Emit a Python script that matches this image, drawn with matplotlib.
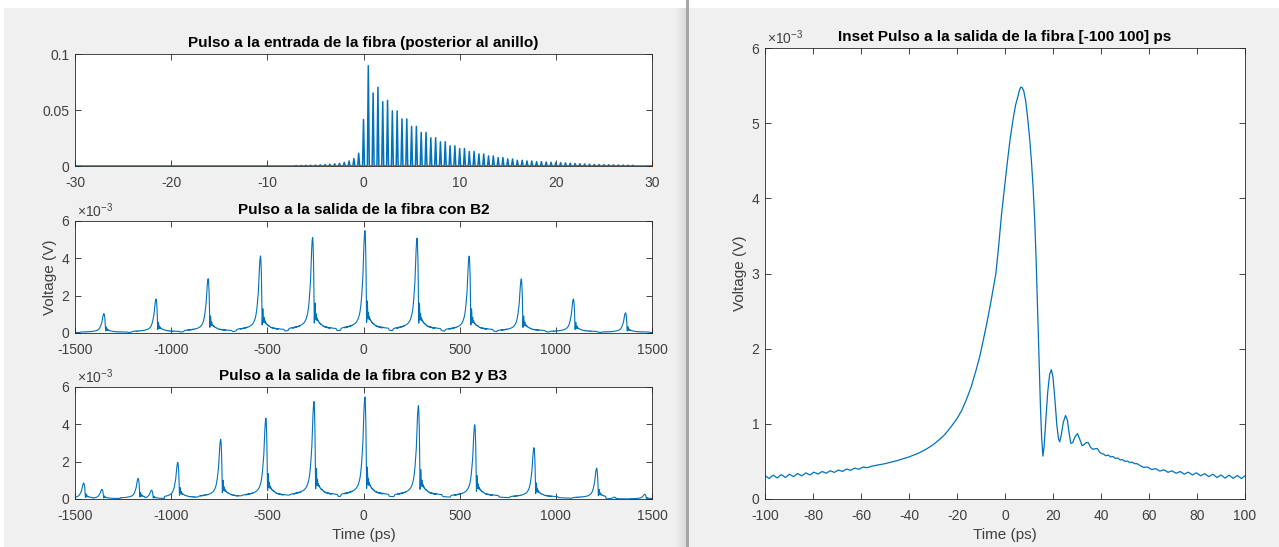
import matplotlib
matplotlib.use("Agg")
import matplotlib.pyplot as plt
from matplotlib.patches import Rectangle
import numpy as np

LINE_BLUE = "#0072BD"
AXIS_GREY = "#262626"
LABEL_GREY = "#404040"
PANEL_BG = "#f0f0f0"

plt.rcParams["font.family"] = ["Liberation Sans", "DejaVu Sans"]
plt.rcParams["mathtext.default"] = "regular"
plt.rcParams["axes.unicode_minus"] = False

# input pulse after the ring: spike times (ps) and peak power
spike_t = [-7.0, -6.5, -6.0, -5.5, -5.0, -4.5, -4.0, -3.5, -3.0, -2.5, -2.0, -1.5,
           -1.0, -0.5, 0.0, 0.5, 1.0, 1.5, 2.0, 2.5, 3.0, 3.5, 4.0, 4.5, 5.0, 5.5,
           6.0, 6.5, 7.0, 7.5, 8.0, 8.5, 9.0, 9.5, 10.0, 10.5, 11.0, 11.5, 12.0, 12.5,
           13.0, 13.5, 14.0, 14.5, 15.0, 15.5, 16.0, 16.5, 17.0, 17.5, 18.0, 18.5,
           19.0, 19.5, 20.0, 20.5, 21.0, 21.5, 22.0, 22.5, 23.0, 23.5, 24.0, 24.5,
           25.0, 25.5, 26.0, 26.5, 27.0, 27.5, 28.0]
spike_h = [0.0004, 0.0005, 0.0006, 0.0007, 0.0008, 0.0010, 0.0012, 0.0015, 0.0020, 0.0024,
           0.0033, 0.0045, 0.0066, 0.0114, 0.0414, 0.0895, 0.0652, 0.0703, 0.0574, 0.0586,
           0.0492, 0.0492, 0.0420, 0.0420, 0.0354, 0.0354, 0.0300, 0.0300, 0.0252, 0.0252,
           0.0216, 0.0216, 0.0180, 0.0180, 0.0156, 0.0156, 0.0129, 0.0129, 0.0108, 0.0108,
           0.0090, 0.0090, 0.0075, 0.0075, 0.0063, 0.0063, 0.0051, 0.0051, 0.0045, 0.0045,
           0.0039, 0.0039, 0.0036, 0.0033, 0.0030, 0.0030, 0.0027, 0.0025, 0.0022, 0.0020,
           0.0018, 0.0016, 0.0014, 0.0013, 0.0012, 0.0011, 0.0010, 0.0009, 0.0008, 0.0007,
           0.0006]

# central output pulse with B2 (time in ps, voltage in 1e-3 V)
pulse_t = [-121, -115, -108,
           -100.0, -98.3, -96.6, -94.9, -93.2, -91.5, -89.8, -88.1, -86.4, -84.7,
           -83.0, -81.3, -79.6, -77.9, -76.2, -74.5, -72.8, -71.1, -69.4, -67.7,
           -66.0, -64.3, -62.6, -60.9, -59.2, -57.5,
           -55, -50, -45, -40, -36, -33, -30, -27, -25, -22.5, -20, -18, -16, -14,
           -12, -10.5, -9, -7.5, -6, -4.8, -3.8, -2.6, -1.4, -0.2, 0.9, 2.1, 3.4,
           4.4, 5.4, 6.0, 6.6, 7.2, 7.8, 8.6, 9.4, 10.2, 11.0, 11.7, 12.4, 13.0,
           13.6, 14.2, 14.8, 15.3, 15.8, 16.3, 17.0, 17.8, 18.6, 19.3, 20.0, 20.8,
           21.6, 22.3, 22.8, 23.5, 24.3, 25.2, 26.0, 26.7, 27.4, 28.2, 29.2, 30.2,
           31.1, 32.1, 32.8, 33.8, 34.7, 35.6, 36.6, 37.6, 38.5, 39.5, 40.5,
           41, 42, 43, 44, 45, 46, 47, 48, 49, 50, 51, 52, 53, 54, 55,
           56.0, 57.7, 59.4, 61.1, 62.8, 64.5, 66.2, 67.9, 69.6, 71.3, 73.0, 74.7,
           76.4, 78.1, 79.8, 81.5, 83.2, 84.9, 86.6, 88.3, 90.0, 91.7, 93.4, 95.1,
           96.8, 98.5, 100.0,
           110, 128, 135]
pulse_v = [0.14, 0.26, 0.28,
           0.310, 0.273, 0.317, 0.280, 0.324, 0.287, 0.329, 0.298, 0.339, 0.308,
           0.347, 0.320, 0.357, 0.331, 0.366, 0.343, 0.376, 0.354, 0.385, 0.367,
           0.398, 0.382, 0.411, 0.396, 0.425, 0.417,
           0.44, 0.47, 0.51, 0.56, 0.61, 0.66, 0.72, 0.80, 0.86, 0.96, 1.07, 1.18,
           1.33, 1.50, 1.72, 1.90, 2.12, 2.35, 2.60, 2.82, 3.00, 3.38, 3.80, 4.15,
           4.46, 4.78, 5.06, 5.24, 5.36, 5.44, 5.48, 5.47, 5.43, 5.30, 5.08, 4.82,
           4.50, 4.15, 3.70, 3.15, 2.50, 1.80, 1.20, 0.80, 0.57, 0.70, 1.05, 1.42,
           1.66, 1.72, 1.62, 1.32, 0.98, 0.80, 0.76, 0.86, 1.02, 1.11, 1.05, 0.88,
           0.74, 0.75, 0.83, 0.87, 0.80, 0.71, 0.72, 0.75, 0.75, 0.69, 0.66, 0.67,
           0.67, 0.62, 0.60,
           0.600, 0.575, 0.585, 0.560, 0.565, 0.540, 0.545, 0.520, 0.525, 0.500,
           0.505, 0.485, 0.490, 0.470, 0.470,
           0.450, 0.421, 0.425, 0.392, 0.404, 0.371, 0.389, 0.355, 0.375, 0.342,
           0.366, 0.331, 0.357, 0.320, 0.348, 0.309, 0.338, 0.297, 0.329, 0.286,
           0.320, 0.278, 0.317, 0.275, 0.313, 0.272, 0.310,
           0.28, 0.26, 0.14]

# pulse train after the fibre, B2 only (ps, 1e-3 V)
b2_peak_t = [-1350, -1079, -808, -536, -265, 7, 278, 549, 820, 1091, 1362]
b2_peak_h = [1.04, 1.82, 2.91, 4.13, 5.12, 5.48, 5.08, 4.12, 2.90, 1.82, 1.08]

# pulse train after the fibre, B2 and B3
b3_peak_t = [-1455, -1360, -1172, -1102, -966, -743, -508, -258, 7, 285, 578, 886,
             1212, 1305, 1462]
b3_peak_h = [0.86, 0.52, 1.10, 0.47, 1.96, 3.20, 4.33, 5.22, 5.46, 5.00, 3.98, 2.75,
             1.65, 0.10, 0.25]


def spike_trace(times, heights, half_width, x_min, x_max):
    xs, ys = [x_min], [0.0]
    for t, h in zip(times, heights):
        xs += [t - half_width, t, t + half_width]
        ys += [0.0, h, 0.0]
    xs.append(x_max)
    ys.append(0.0)
    return xs, ys


def pulse_train(peak_t, peak_h, x_min, x_max):
    t_arr = np.asarray(pulse_t, dtype=float)
    v_arr = np.asarray(pulse_v, dtype=float)
    offsets = t_arr - t_arr[np.argmax(v_arr)]
    shape = v_arr / v_arr.max()
    xs, ys = [], []
    last = len(peak_t) - 1
    for i, (t, h) in enumerate(zip(peak_t, peak_h)):
        left = (t - peak_t[i - 1]) / 2 if i > 0 else np.inf
        right = (peak_t[i + 1] - t) / 2 if i < last else np.inf
        keep = (offsets >= -left) & (offsets <= right)
        xs.extend(t + offsets[keep])
        ys.extend(h * shape[keep])
    if xs[0] > x_min:
        xs.insert(0, x_min)
        ys.insert(0, ys[0])
    if xs[-1] < x_max:
        xs.append(x_max)
        ys.append(ys[-1])
    return xs, ys


def style_axes(ax):
    ax.set_facecolor("white")
    ax.tick_params(direction="in", top=True, right=True, length=4, width=0.6,
                   color=AXIS_GREY, labelcolor=LABEL_GREY, labelsize=10)
    ax.tick_params(axis="x", pad=7)
    ax.tick_params(axis="y", pad=4)
    for spine in ax.spines.values():
        spine.set_color(AXIS_GREY)
        spine.set_linewidth(0.6)


def exponent_label(ax):
    ax.annotate(r"$\times10^{-3}$", xy=(0, 1), xycoords="axes fraction",
                xytext=(1.5, 1), textcoords="offset points", ha="left", va="bottom",
                fontsize=10, color=LABEL_GREY)


fig = plt.figure(figsize=(12.79, 5.47), dpi=100, facecolor=PANEL_BG)

# window chrome: white top/left edges and the divider between the two windows
W, H = 1279.0, 547.0
fig.patches.append(Rectangle((0, 1 - 8 / H), 1, 8 / H, transform=fig.transFigure,
                             facecolor="white", edgecolor="none", zorder=0))
fig.patches.append(Rectangle((0, 0), 4 / W, 1 - 8 / H, transform=fig.transFigure,
                             facecolor="white", edgecolor="none", zorder=0))
for k, shade in enumerate(["#ececec", "#e8e8e8", "#e4e4e4", "#e0e0e0", "#dcdcdc"]):
    fig.patches.append(Rectangle(((676 + 2 * k) / W, 0), 2 / W, 1 - 8 / H,
                                 transform=fig.transFigure, facecolor=shade,
                                 edgecolor="none", zorder=0))
fig.patches.append(Rectangle((686 / W, 0), 2.5 / W, 1, transform=fig.transFigure,
                             facecolor="#a6a6a6", edgecolor="none", zorder=0))

ax_in = fig.add_axes([75 / W, 1 - 166 / H, 577 / W, 112 / H])
ax_b2 = fig.add_axes([75 / W, 1 - 333 / H, 577 / W, 112 / H])
ax_b3 = fig.add_axes([75 / W, 1 - 499 / H, 577 / W, 112 / H])
ax_zoom = fig.add_axes([765 / W, 1 - 499 / H, 480 / W, 451 / H])

TITLE_KW = dict(fontsize=11, fontweight="bold", pad=5)
LABEL_KW = dict(fontsize=11, color=LABEL_GREY)

xs, ys = spike_trace(spike_t, spike_h, 0.1, -30, 30)
ax_in.plot(xs, ys, color=LINE_BLUE, linewidth=1.1)
ax_in.set_xlim(-30, 30)
ax_in.set_ylim(0, 0.1)
ax_in.set_xticks(range(-30, 31, 10))
ax_in.set_yticks([0, 0.05, 0.1])
ax_in.set_yticklabels(["0", "0.05", "0.1"])
ax_in.set_title("Pulso a la entrada de la fibra (posterior al anillo)", **TITLE_KW)

xs, ys = pulse_train(b2_peak_t, b2_peak_h, -1500, 1500)
ax_b2.plot(xs, ys, color=LINE_BLUE, linewidth=0.8)
ax_b2.set_title("Pulso a la salida de la fibra con B2", **TITLE_KW)
ax_b2.set_ylabel("Voltage (V)", labelpad=3, **LABEL_KW)

xs, ys = pulse_train(b3_peak_t, b3_peak_h, -1500, 1500)
ax_b3.plot(xs, ys, color=LINE_BLUE, linewidth=0.8)
ax_b3.set_title("Pulso a la salida de la fibra con B2 y B3", **TITLE_KW)
ax_b3.set_xlabel("Time (ps)", labelpad=4, **LABEL_KW)

for ax in (ax_b2, ax_b3):
    ax.set_xlim(-1500, 1500)
    ax.set_ylim(0, 6)
    ax.set_xticks(range(-1500, 1501, 500))
    ax.set_yticks([0, 2, 4, 6])
    exponent_label(ax)

ax_zoom.plot(pulse_t, pulse_v, color=LINE_BLUE, linewidth=0.9)
ax_zoom.set_xlim(-100, 100)
ax_zoom.set_ylim(0, 6)
ax_zoom.set_xticks(range(-100, 101, 20))
ax_zoom.set_yticks(range(0, 7))
ax_zoom.set_title("Inset Pulso a la salida de la fibra [-100 100] ps", **TITLE_KW)
ax_zoom.set_xlabel("Time (ps)", labelpad=4, **LABEL_KW)
ax_zoom.set_ylabel("Voltage (V)", labelpad=3, **LABEL_KW)
exponent_label(ax_zoom)

for ax in (ax_in, ax_b2, ax_b3, ax_zoom):
    style_axes(ax)

fig.savefig("out.png", dpi=100, facecolor=fig.get_facecolor())
